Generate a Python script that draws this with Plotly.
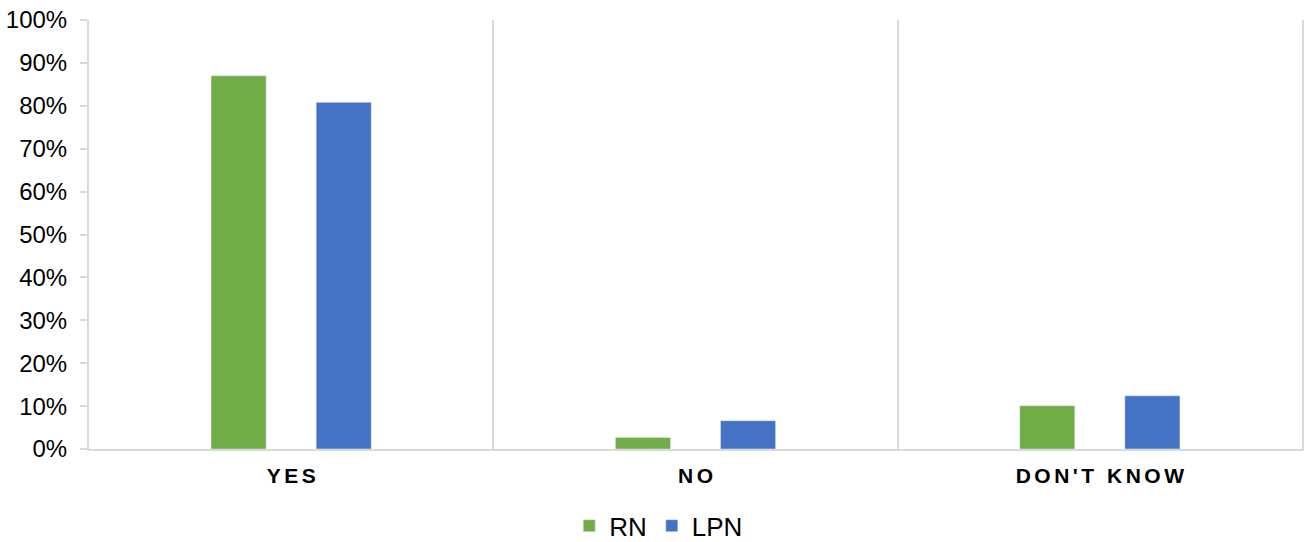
import plotly.graph_objects as go

categories = ["YES", "NO", "DON'T KNOW"]
rn_values = [0.87, 0.027, 0.101]
lpn_values = [0.808, 0.066, 0.124]

def spaced(s):
    return "\u2006".join(list(s))

cat_labels = [spaced(c) for c in categories]

fig = go.Figure()
fig.add_trace(go.Bar(name="RN", x=cat_labels, y=rn_values, marker_color="#70AD47"))
fig.add_trace(go.Bar(name="LPN", x=cat_labels, y=lpn_values, marker_color="#4472C4"))

fig.update_layout(
    width=1307, height=542,
    margin=dict(l=89, r=5, t=20, b=93, autoexpand=False),
    paper_bgcolor="white", plot_bgcolor="white",
    barmode="group", bargap=0.48, bargroupgap=0.476,
    font=dict(family="Liberation Sans, Arial, sans-serif", color="black"),
    legend=dict(orientation="h", x=0.504, xanchor="center", xref="container",
                y=-0.179, yanchor="middle", font=dict(size=26),
                itemwidth=30, traceorder="normal"),
)
fig.update_xaxes(
    type="category", tickson="boundaries", showgrid=True, gridcolor="#d9d9d9", gridwidth=2,
    showline=True, linecolor="#d9d9d9", linewidth=2, ticks="", automargin=False,
    ticklabelstandoff=7,
    tickfont=dict(size=21, family="Liberation Sans, Arial, sans-serif", weight="bold"),
    mirror=False,
)
fig.update_yaxes(
    range=[0, 1], dtick=0.1, tickformat=".0%", showgrid=False, zeroline=False,
    showline=True, linecolor="#d9d9d9", linewidth=2, ticks="outside", ticklen=7,
    tickcolor="#d9d9d9", tickwidth=2, tickfont=dict(size=24), automargin=False,
    ticklabelstandoff=8, ticklabeloverflow="allow", mirror=True,
)

fig.write_html("out.html", config={"displayModeBar": False},
               post_script="document.body.style.margin='0';")
